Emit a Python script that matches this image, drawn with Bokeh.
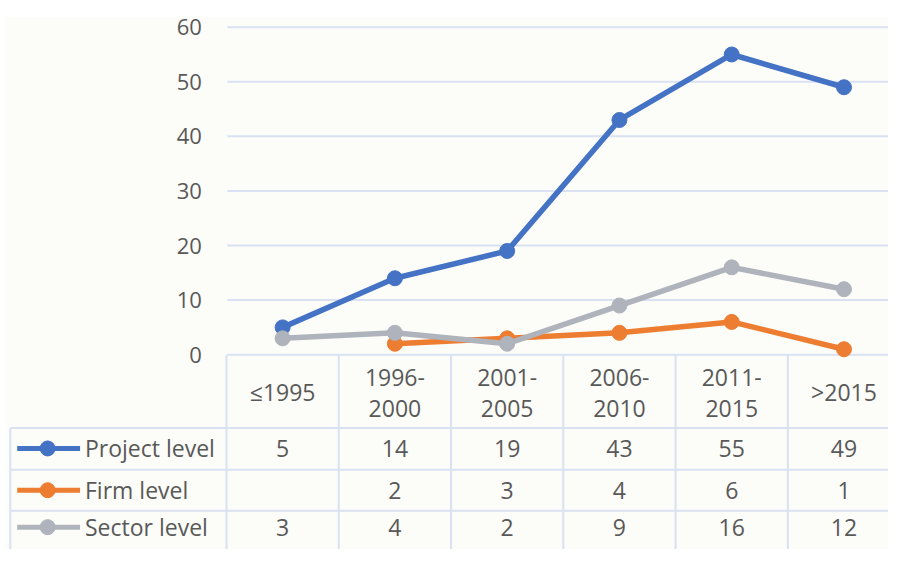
import math
from bokeh.plotting import figure
from bokeh.models import Range1d
from bokeh.core.properties import value
from bokeh.embed import file_html
from bokeh.resources import INLINE

# ---------------- data ----------------
categories = ["≤1995", "1996-2000", "2001-2005", "2006-2010", "2011-2015", ">2015"]
series_names = ["Project level", "Firm level", "Sector level"]
project_level = [5, 14, 19, 43, 55, 49]
firm_level = [math.nan, 2, 3, 4, 6, 1]
sector_level = [3, 4, 2, 9, 16, 12]
y_ticks = [0, 10, 20, 30, 40, 50, 60]

series_values = [project_level, firm_level, sector_level]
series_colors = ["#4472C4", "#ED7D31", "#AFB3BB"]

# ---------------- layout helpers (reference pixels -> data units) ----------------
W, H = 888, 549
REF_W, REF_H = 904, 565
X0, DX = 287.2, 114.3     # px of first category centre, px per category
Y0, DY = 364.5, 5.617     # px of value 0, px per unit


def X(px):
    return (px - X0) / DX


def Y(py):
    return (Y0 - py) / DY


FONT = value("Open Sans")
TXT = "#595959"
GRID = "#D9E1F2"
BG = "#FCFCF8"
TABLE_FS = "23px"
TICK_FS = "22px"

p = figure(width=W, height=H, output_backend="svg", toolbar_location=None,
           x_range=Range1d(X(0), X(REF_W)), y_range=Range1d(Y(REF_H), Y(0)),
           min_border=0, background_fill_color="white", border_fill_color="white",
           outline_line_color=None)
p.xaxis.visible = False
p.yaxis.visible = False
p.xgrid.visible = False
p.ygrid.visible = False

# chart background
p.quad(left=[X(5)], right=[X(REF_W)], top=[Y(17)], bottom=[Y(REF_H)],
       fill_color=BG, line_color=None)

xs = list(range(len(categories)))

# gridlines
p.segment(x0=[X(231)] * len(y_ticks), x1=[X(REF_W)] * len(y_ticks),
          y0=y_ticks, y1=y_ticks, line_color=GRID, line_width=2)

# y tick labels
p.text(x=[X(205)] * len(y_ticks), y=y_ticks, text=[str(t) for t in y_ticks],
       text_align="right", text_baseline="middle", text_font=FONT,
       text_font_size=TICK_FS, text_color=TXT)

# ---------------- data table ----------------
row_lines_px = [440, 483, 525]
row_centres_px = [461, 504, 542]

p.segment(x0=[X(10)] * 3, x1=[X(REF_W)] * 3,
          y0=[Y(v) for v in row_lines_px], y1=[Y(v) for v in row_lines_px],
          line_color=GRID, line_width=2)
bounds = [i - 0.5 for i in range(len(categories) + 1)]
p.segment(x0=bounds, x1=bounds, y0=[0] * len(bounds), y1=[Y(REF_H)] * len(bounds),
          line_color=GRID, line_width=2)
p.segment(x0=[X(10)], x1=[X(10)], y0=[Y(440)], y1=[Y(REF_H)],
          line_color=GRID, line_width=2)

# header labels
for i, c in enumerate(categories):
    if "-" in c:
        a, b = c.split("-")
        p.text(x=[i, i], y=[Y(388), Y(420)], text=[a + "-", b],
               text_align="center", text_baseline="middle", text_font=FONT,
               text_font_size=TABLE_FS, text_color=TXT)
    else:
        p.text(x=[i], y=[Y(403)], text=[c],
               text_align="center", text_baseline="middle", text_font=FONT,
               text_font_size=TABLE_FS, text_color=TXT)

# rows
for name, vals, col, cy in zip(series_names, series_values, series_colors, row_centres_px):
    yc = Y(cy)
    p.line(x=[X(17), X(81)], y=[yc, yc], line_color=col, line_width=5)
    p.scatter(x=[X(48)], y=[yc], size=15, fill_color=col, line_color=col)
    p.text(x=[X(86)], y=[yc], text=[name], text_align="left", text_baseline="middle",
           text_font=FONT, text_font_size=TABLE_FS, text_color=TXT)
    txt = ["" if (isinstance(v, float) and math.isnan(v)) else str(v) for v in vals]
    p.text(x=xs, y=[yc] * len(xs), text=txt, text_align="center", text_baseline="middle",
           text_font=FONT, text_font_size=TABLE_FS, text_color=TXT)

# ---------------- lines ----------------
for vals, col in zip(series_values, series_colors):
    p.line(x=xs, y=vals, line_color=col, line_width=5.5, line_join="round")
    p.scatter(x=xs, y=vals, size=15, fill_color=col, line_color=col)

open("out.html", "w").write(file_html(p, INLINE))
